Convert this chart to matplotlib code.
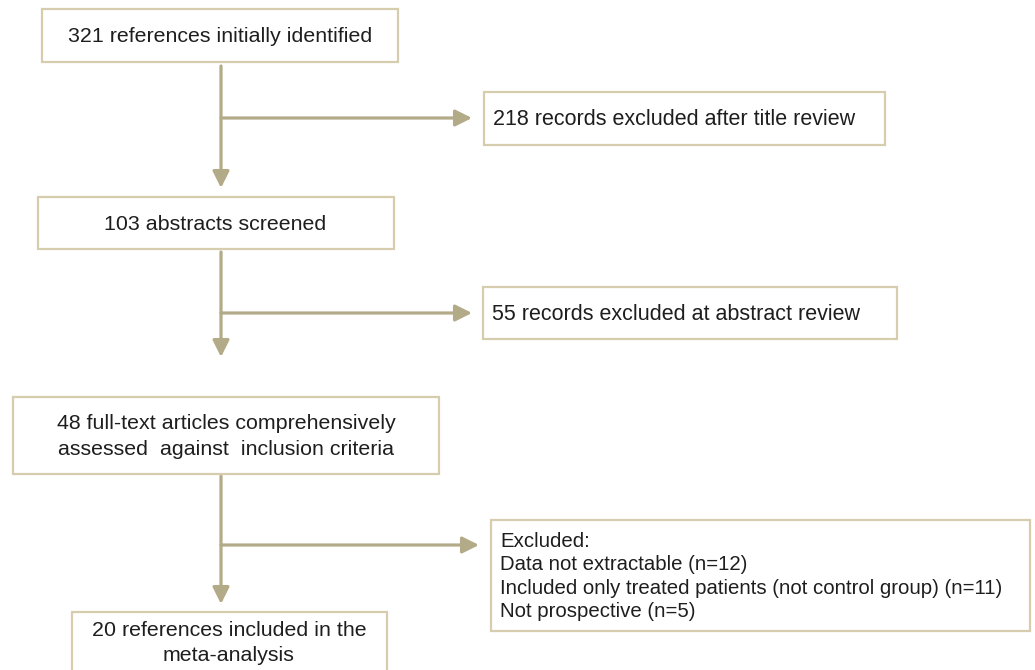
import matplotlib
matplotlib.use("Agg")
import matplotlib.pyplot as plt
from matplotlib.patches import Rectangle

plt.rcParams['font.family'] = ['Liberation Sans', 'DejaVu Sans']

main_texts = [
    "321 references initially identified",
    "103 abstracts screened",
    "48 full-text articles comprehensively\nassessed  against  inclusion criteria",
    "20 references included in the\nmeta-analysis",
]
side_texts = [
    "218 records excluded after title review",
    "55 records excluded at abstract review",
    "Excluded:\nData not extractable (n=12)\nIncluded only treated patients (not control group) (n=11)\nNot prospective (n=5)",
]

W, H = 1035, 670
fig = plt.figure(figsize=(W / 100, H / 100), dpi=100)
ax = fig.add_axes([0, 0, 1, 1])
ax.set_xlim(0, W)
ax.set_ylim(H, 0)
ax.axis('off')

edge = '#d6cdae'
line = '#b3ab88'
txt = '#1e1e1e'

# main boxes: (x0, y0, x1, y1)
main_boxes = [(42, 9, 398, 62), (38, 197, 394, 249), (13, 397, 439, 474), (72, 612, 387, 680)]
main_cx = [220, 215, 226, 229]
side_boxes = [(484, 92, 885, 145), (483, 287, 897, 339), (491, 520, 1030, 631)]
side_fs = [15.5, 15.5, 14.7]

def rect(b):
    x0, y0, x1, y1 = b
    ax.add_patch(Rectangle((x0, y0), x1 - x0, y1 - y0, facecolor='white',
                           edgecolor=edge, lw=1.6, zorder=2))

for b, t, cx in zip(main_boxes, main_texts, main_cx):
    rect(b)
    ls = 1.44 if b[1] < 600 else 1.38
    yc = (b[1] + b[3]) / 2 + 1 if b[3] <= H else 643
    ax.text(cx, yc, t, ha='center', va='center', fontsize=15.4, color=txt,
            linespacing=ls, zorder=3)

for b, t, f in zip(side_boxes, side_texts, side_fs):
    rect(b)
    ax.text(b[0] + 9, (b[1] + b[3]) / 2 + 1, t, ha='left', va='center',
            fontsize=f, color=txt, linespacing=1.29, zorder=3)

cx = 221
arrow_kw = dict(arrowstyle='-|>,head_length=1.0,head_width=0.5', color=line, lw=2.3,
                shrinkA=0, shrinkB=0)

segments = [(66, 188, 118, 472), (252, 357, 313, 472), (476, 604, 545, 479)]
for (ys, ye, yb, xe) in segments:
    ax.annotate('', xy=(cx, ye), xytext=(cx, ys), arrowprops=arrow_kw, zorder=1)
    ax.annotate('', xy=(xe, yb), xytext=(cx, yb), arrowprops=arrow_kw, zorder=1)

fig.savefig('out.png', dpi=100)
